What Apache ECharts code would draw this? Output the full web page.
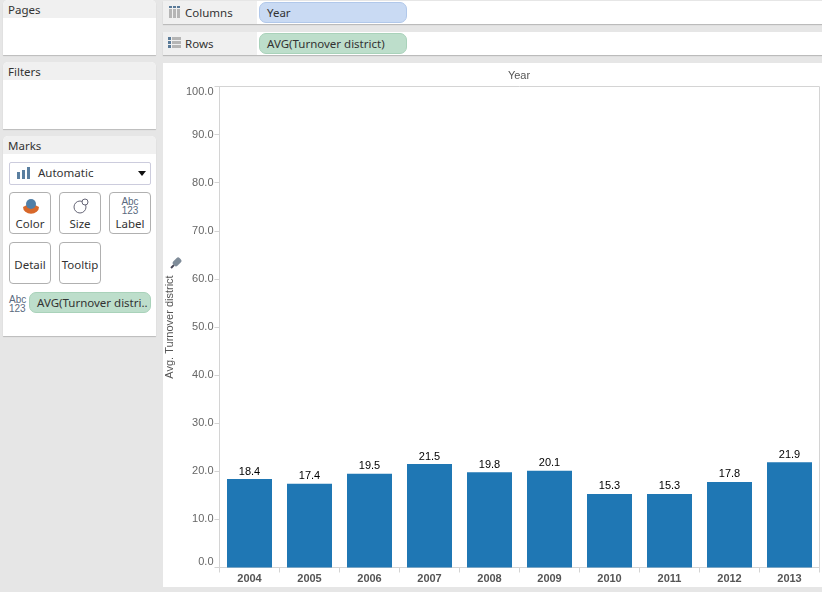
<!DOCTYPE html>
<html>
<head>
<meta charset="utf-8">
<script src="https://cdn.jsdelivr.net/npm/echarts@6/dist/echarts.min.js"></script>
<style>
  html, body { margin: 0; padding: 0; background: #e6e6e6; }
  body { width: 822px; height: 592px; position: relative; overflow: hidden; font: 11.5px "Noto Sans", sans-serif; color: #333; }
  .abs { position: absolute; box-sizing: border-box; }
  .card { background: #fff; border-radius: 5px 5px 0 0; box-shadow: 0 1px 1px #bbb; }
  .card .head { background: #f0f0f0; height: 18px; line-height: 20px; padding-left: 5px; border-radius: 5px 5px 0 0; }
  .shelf { background: #f0f0f0; box-shadow: 0 1px 1px #bbb; left: 163px; width: 659px; height: 23px; }
  .shelf .name { position: absolute; left: 22px; top: 3px; line-height: 18px; }
  .shelf .fill { position: absolute; left: 94px; right: 0; top: 0; bottom: 0; background: #fff; }
  .pill { border-radius: 7px; height: 21px; line-height: 19px; padding-left: 7px; white-space: nowrap; overflow: hidden; }
  .pill.blue { background: #c9daf3; border: 1px solid #b1c8ea; }
  .pill.green { background: #bddecb; border: 1px solid #a9d2ba; }
  .btn { width: 42px; height: 42px; border: 1px solid #b0b0b0; border-radius: 4px; background: #fff; text-align: center; }
  .btn span { position: absolute; left: 0; right: 0; bottom: 2px; }
  .btn svg { position: absolute; left: 11px; top: 3px; }
  .abc { font: 10px/9px "Liberation Sans Narrow", "Liberation Sans", sans-serif; color: #5a6a80; text-align: center; }
  #chart { position: absolute; left: 163px; top: 63px; width: 659px; height: 524px; background: #fff; }
</style>
</head>
<body>
<div class="abs card" style="left:3px;top:0;width:153px;height:55px"><div class="head">Pages</div></div>
<div class="abs card" style="left:3px;top:62px;width:153px;height:67px"><div class="head">Filters</div></div>
<div class="abs card" style="left:3px;top:136px;width:153px;height:200px"><div class="head">Marks</div></div>

<div class="abs shelf" style="top:1px">
  <svg class="abs" style="left:5px;top:4px" width="14" height="14"><g fill="#b5b5b5"><rect x="1" y="4" width="3" height="9"/><rect x="5" y="4" width="3" height="9"/><rect x="9" y="4" width="3" height="9"/></g><g fill="#5a7a98"><rect x="1" y="1" width="3" height="2"/><rect x="5" y="1" width="3" height="2"/><rect x="9" y="1" width="3" height="2"/></g></svg>
  <div class="name">Columns</div><div class="fill"></div>
</div>
<div class="abs shelf" style="top:32px">
  <svg class="abs" style="left:5px;top:4px" width="14" height="14"><g fill="#5a7a98"><rect x="0" y="1" width="3" height="3"/><rect x="0" y="5" width="3" height="3"/><rect x="0" y="9" width="3" height="3"/></g><g fill="#b5b5b5"><rect x="4" y="1" width="9" height="3"/><rect x="4" y="5" width="9" height="3"/><rect x="4" y="9" width="9" height="3"/></g></svg>
  <div class="name">Rows</div><div class="fill"></div>
</div>
<div class="abs pill blue" style="left:259px;top:2px;width:148px">Year</div>
<div class="abs pill green" style="left:259px;top:33px;width:148px">AVG(Turnover district)</div>

<div class="abs" style="left:9px;top:162px;width:142px;height:23px;background:#fff;border:1px solid #ccd;border-radius:2px">
  <svg class="abs" style="left:7px;top:4px" width="14" height="14"><g fill="#5a7fa0"><rect x="0" y="5" width="3" height="7"/><rect x="5" y="3" width="3" height="9"/><rect x="10" y="0" width="3" height="12"/></g></svg>
  <div class="abs" style="left:28px;top:0;line-height:19px">Automatic</div>
  <svg class="abs" style="left:128px;top:8px" width="9" height="6"><path d="M0 0H8L4 5Z" fill="#111"/></svg>
</div>
<div class="abs btn" style="left:9px;top:192px"><svg width="20" height="20"><path d="M2 11a6 5 0 0 0 16 0l-4-2h-8z" fill="#d8682a"/><circle cx="10" cy="8" r="5" fill="#4f7fa8"/></svg><span>Color</span></div>
<div class="abs btn" style="left:59px;top:192px"><svg width="20" height="20"><circle cx="9" cy="11" r="6" fill="none" stroke="#667"/><circle cx="14" cy="6" r="3" fill="#fff" stroke="#667"/></svg><span>Size</span></div>
<div class="abs btn" style="left:109px;top:192px"><div class="abs abc" style="left:0;right:0;top:4px">Abc<br>123</div><span>Label</span></div>
<div class="abs btn" style="left:9px;top:242px"><span style="bottom:11px">Detail</span></div>
<div class="abs btn" style="left:59px;top:242px"><span style="bottom:11px">Tooltip</span></div>
<div class="abs abc" style="left:9px;top:295px;width:16px">Abc<br>123</div>
<div class="abs pill green" style="left:29px;top:292px;width:122px">AVG(Turnover distri..</div>

<div id="chart"></div>
<script>
const years = ["2004", "2005", "2006", "2007", "2008", "2009", "2010", "2011", "2012", "2013"];
const turnover = [18.4, 17.4, 19.5, 21.5, 19.8, 20.1, 15.3, 15.3, 17.8, 21.9];
const yMax = 100;
const yStep = 10;

const chart = echarts.init(document.getElementById("chart"));
chart.setOption({
  animation: false,
  title: {
    text: "Year",
    left: 356,
    top: 7,
    textAlign: "center",
    padding: 0,
    textStyle: { color: "#555", fontSize: 11, fontWeight: "normal", fontFamily: "Liberation Sans" }
  },
  grid: {
    left: 56.5,
    right: 2.5,
    top: 23.5,
    bottom: 19.5,
    show: true,
    borderColor: "#d4d4d4",
    borderWidth: 1,
    outerBoundsMode: "none"
  },
  xAxis: {
    type: "category",
    data: years,
    axisLine: { lineStyle: { color: "#d4d4d4" } },
    axisTick: { show: true, length: 5, alignWithLabel: false, lineStyle: { color: "#d4d4d4" } },
    axisLabel: { color: "#555", fontSize: 11, fontWeight: "bold", fontFamily: "Liberation Sans", margin: 6 }
  },
  yAxis: {
    type: "value",
    min: 0,
    max: yMax,
    interval: yStep,
    name: "Avg. Turnover district",
    nameLocation: "middle",
    nameGap: 38,
    nameTextStyle: { color: "#555", fontSize: 11, fontFamily: "Liberation Sans" },
    axisLine: { show: true, lineStyle: { color: "#d4d4d4" } },
    axisTick: { show: true, length: 5, lineStyle: { color: "#d4d4d4" } },
    splitLine: { show: false },
    axisLabel: {
      color: "#666",
      fontSize: 11,
      fontFamily: "Liberation Sans",
      margin: 6,
      verticalAlignMinLabel: "bottom",
      verticalAlignMaxLabel: "top",
      formatter: v => v.toFixed(1)
    }
  },
  series: [{
    type: "bar",
    data: turnover,
    barWidth: 45,
    itemStyle: { color: "#1f77b4" },
    label: {
      show: true,
      position: "top",
      distance: 2,
      color: "#000",
      fontSize: 11,
      fontFamily: "Liberation Sans",
      formatter: p => p.value.toFixed(1)
    }
  }],
  graphic: [{
    // pin on the axis title
    type: "group",
    x: 13,
    y: 200,
    rotation: Math.PI / 4,
    silent: true,
    children: [
      { type: "rect", shape: { x: -3, y: -3, width: 9, height: 6, r: 2 }, style: { fill: "#7f8c99" } },
      { type: "rect", shape: { x: -7, y: -1, width: 4, height: 2 }, style: { fill: "#445" } }
    ]
  }]
});
</script>
</body>
</html>
